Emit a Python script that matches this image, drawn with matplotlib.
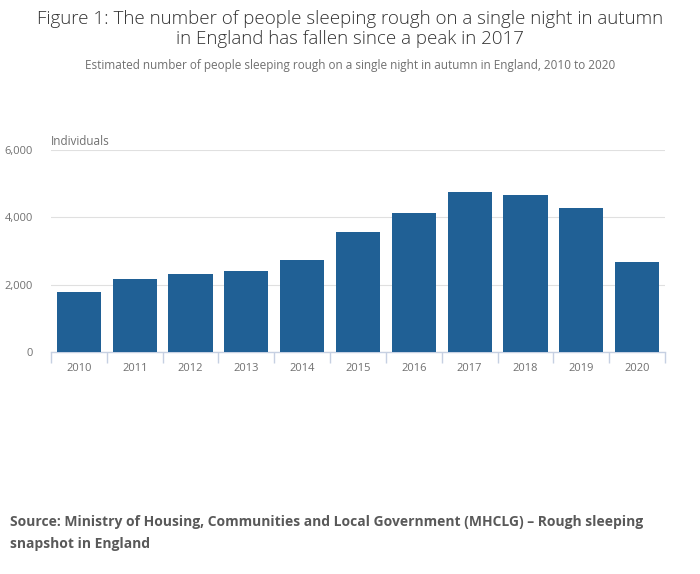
"""
Rough sleeping snapshot in England, 2010 to 2020
"""

import matplotlib.pyplot as plt
from matplotlib.ticker import FuncFormatter

years = ['2010', '2011', '2012', '2013', '2014', '2015', '2016', '2017',
         '2018', '2019', '2020']
rough_sleepers = [1768, 2181, 2309, 2414, 2744, 3569, 4134, 4751, 4677,
                  4266, 2688]
y_ticks = [0, 2000, 4000, 6000]

bar_c = '#206095'
txt_c = '#707070'


def main():
    plt.rcParams['font.family'] = ['Open Sans', 'DejaVu Sans']

    fig = plt.figure(figsize=(7, 5.74), dpi=100)
    ax = fig.add_axes([51 / 700, 1 - 352 / 574, 614 / 700, 202 / 574])

    x = list(range(len(years)))
    ax.bar(x, rough_sleepers, width=0.79, color=bar_c, zorder=3)

    ax.set_xlim(-0.5, len(years) - 0.5)
    ax.set_ylim(0, 6000)
    ax.set_yticks(y_ticks)
    ax.yaxis.set_major_formatter(FuncFormatter(lambda v, p: f"{v:,.0f}"))
    ax.set_xticks(x)
    ax.set_xticklabels(years)
    ax.set_xticks([i - 0.5 for i in range(len(years) + 1)], minor=True)

    ax.grid(axis='y', color='#e0e0e0', lw=0.8, zorder=0)
    for s in ['top', 'right', 'left']:
        ax.spines[s].set_visible(False)
    ax.spines['bottom'].set_color('#c6d0e2')
    ax.spines['bottom'].set_linewidth(1)

    ax.tick_params(axis='y', length=0, pad=13, labelsize=8,
                   labelcolor=txt_c)
    ax.tick_params(axis='x', which='major', length=0, pad=8, labelsize=8,
                   labelcolor=txt_c)
    ax.tick_params(axis='x', which='minor', length=8, color='#c6d0e2',
                   width=1)

    ax.text(0.0, 6000 + 60, "Individuals", transform=ax.get_yaxis_transform(),
            ha='left', va='bottom', fontsize=8.5, color=txt_c)

    fig.text(0.5, 1 - 19 / 574, "Figure 1: The number of people sleeping "
             "rough on a single night in autumn", ha='center', va='center',
             fontsize=13.5, color='#333333', fontweight='light')
    fig.text(0.5, 1 - 39 / 574, "in England has fallen since a peak in 2017",
             ha='center', va='center', fontsize=13.5, color='#333333',
             fontweight='light')
    fig.text(0.5, 1 - 65 / 574, "Estimated number of people sleeping rough "
             "on a single night in autumn in England, 2010 to 2020",
             ha='center', va='center', fontsize=8.5, color=txt_c)

    fig.text(10 / 700, 1 - 522 / 574, "Source: Ministry of Housing, "
             "Communities and Local Government (MHCLG) \u2013 Rough sleeping",
             ha='left', va='center', fontsize=10, color='#595959',
             fontweight='bold')
    fig.text(10 / 700, 1 - 544 / 574, "snapshot in England",
             ha='left', va='center', fontsize=10, color='#595959',
             fontweight='bold')

    plt.savefig('out.png', dpi=100)


if __name__ == '__main__':
    main()
